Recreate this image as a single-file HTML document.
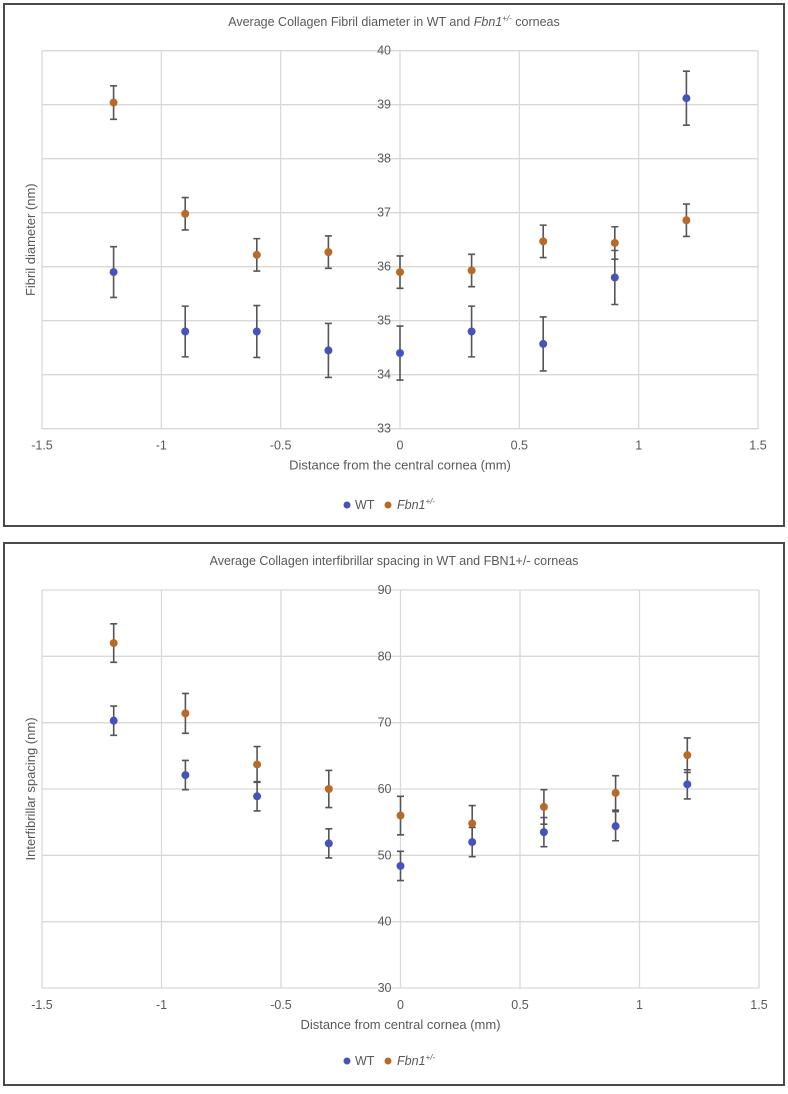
<!DOCTYPE html>
<html><head><meta charset="utf-8"><style>
body{margin:0;background:#fff;width:788px;height:1089px;overflow:hidden;font-family:"Liberation Sans",sans-serif}
svg text{font-family:"Liberation Sans",sans-serif;fill:#595959}
</style></head><body>
<svg id="s" width="788" height="1089"></svg>
<script>
const xVals=[-1.2,-0.9,-0.6,-0.3,0,0.3,0.6,0.9,1.2];
const xTicks=[-1.5,-1,-0.5,0,0.5,1,1.5];
const diamWT=[35.9,34.8,34.8,34.45,34.4,34.8,34.57,35.8,39.12];
const diamWTErr=[0.47,0.47,0.48,0.5,0.5,0.47,0.5,0.5,0.5];
const diamFbn=[39.04,36.98,36.22,36.27,35.9,35.93,36.47,36.44,36.86];
const diamFbnErr=[0.31,0.3,0.3,0.3,0.3,0.3,0.3,0.3,0.3];
const diamTicks=[33,34,35,36,37,38,39,40];
const spWT=[70.3,62.1,58.9,51.8,48.4,52.0,53.5,54.4,60.7];
const spWTErr=[2.2,2.2,2.2,2.2,2.2,2.2,2.2,2.2,2.2];
const spFbn=[82.0,71.4,63.7,60.0,56.0,54.8,57.3,59.4,65.1];
const spFbnErr=[2.9,3.0,2.7,2.8,2.9,2.7,2.6,2.6,2.6];
const spTicks=[30,40,50,60,70,80,90];

const S=document.getElementById('s');
const NS='http://www.w3.org/2000/svg';
function el(t,a,p){const e=document.createElementNS(NS,t);for(const k in a)e.setAttribute(k,a[k]);(p||S).appendChild(e);return e;}

function chart(o){
  const g=el('g',{});
  
  
  const fr=el('rect',{x:o.bx,y:o.by,width:o.bw,height:o.bh,fill:'none',stroke:'#4a4a4a','stroke-width':2},g);
  
  
  const X=v=>o.x0+(v+1.5)/3*(o.x1-o.x0);
  const Y=v=>o.y1-(v-o.ymin)/(o.ymax-o.ymin)*(o.y1-o.y0);
  xTicks.forEach(t=>{
    const l=el('line',{x1:X(t),x2:X(t),y1:o.y0,y2:o.y1,stroke:'#d9d9d9','stroke-width':1.3},g);
    
    
    const tx=el('text',{x:X(t),y:o.y1+21,'text-anchor':'middle','font-size':12.5},g);tx.textContent=t;
    
    
  });
  o.ticks.forEach(t=>{
    const l=el('line',{x1:o.x0,x2:o.x1,y1:Y(t),y2:Y(t),stroke:'#d9d9d9','stroke-width':1.3},g);
    
    
    const tx=el('text',{x:X(0)-9,y:Y(t)+4,'text-anchor':'end','font-size':12.5},g);tx.textContent=t;
    
    
  });
  const tt=el('text',{x:394,y:o.by+22,'text-anchor':'middle','font-size':12.5},g);
  tt.innerHTML=o.title;
  
  
  const xt=el('text',{x:(o.x0+o.x1)/2,y:o.y1+41,'text-anchor':'middle','font-size':13},g);xt.textContent=o.xtitle;
  
  
  const yc=(o.y0+o.y1)/2;
  const yt=el('text',{x:35,y:yc,'text-anchor':'middle','font-size':13,transform:`rotate(-90 35 ${yc})`},g);yt.textContent=o.ytitle;
  
  
  const series=[[o.wt,o.wtErr,'#4753b8','wt'],[o.fb,o.fbErr,'#b86a28','fbn1']];
  series.forEach(([vals,errs,col,nm])=>{
    vals.forEach((v,i)=>{
      const x=X(xVals[i]),ya=Y(v+errs[i]),yb=Y(v-errs[i]);
      const eb=el('path',{d:`M${x},${ya}V${yb}M${x-3.5},${ya}H${x+3.5}M${x-3.5},${yb}H${x+3.5}`,stroke:'#555','stroke-width':1.6,fill:'none'},g);
      
      
    });
  });
  series.forEach(([vals,errs,col,nm])=>{
    vals.forEach((v,i)=>{
      const c=el('circle',{cx:X(xVals[i]),cy:Y(v),r:4,fill:col},g);
      
      
    });
  });
  const ly=o.legY;
  const l1=el('circle',{cx:347,cy:ly-4,r:3.5,fill:'#4753b8'},g);
  
  
  const t1=el('text',{x:355,y:ly,'font-size':12.5},g);t1.textContent='WT';
  
  
  const l2=el('circle',{cx:388,cy:ly-4,r:3.5,fill:'#b86a28'},g);
  
  
  const t2=el('text',{x:397,y:ly,'font-size':12.5,'font-style':'italic'},g);
  t2.innerHTML='Fbn1<tspan font-size="8" dy="-5">+/-</tspan>';
  
  
}
chart({name:'fibril-diameter-chart',bx:4,by:4,bw:780,bh:522,x0:42,x1:758,y0:50.7,y1:428.7,ymin:33,ymax:40,ticks:diamTicks,
  title:'Average Collagen Fibril diameter in WT and <tspan font-style="italic">Fbn1</tspan><tspan font-style="italic" font-size="8" dy="-5">+/-</tspan><tspan dy="5"> corneas</tspan>',
  xtitle:'Distance from the central cornea (mm)',ytitle:'Fibril diameter (nm)',wt:diamWT,wtErr:diamWTErr,fb:diamFbn,fbErr:diamFbnErr,legY:509});
chart({name:'interfibrillar-spacing-chart',bx:4,by:543,bw:780,bh:542,x0:42,x1:759,y0:590,y1:988,ymin:30,ymax:90,ticks:spTicks,
  title:'Average Collagen interfibrillar spacing in WT and FBN1+/- corneas',
  xtitle:'Distance from central cornea (mm)',ytitle:'Interfibrillar spacing (nm)',wt:spWT,wtErr:spWTErr,fb:spFbn,fbErr:spFbnErr,legY:1065});
</script>
</body></html>
